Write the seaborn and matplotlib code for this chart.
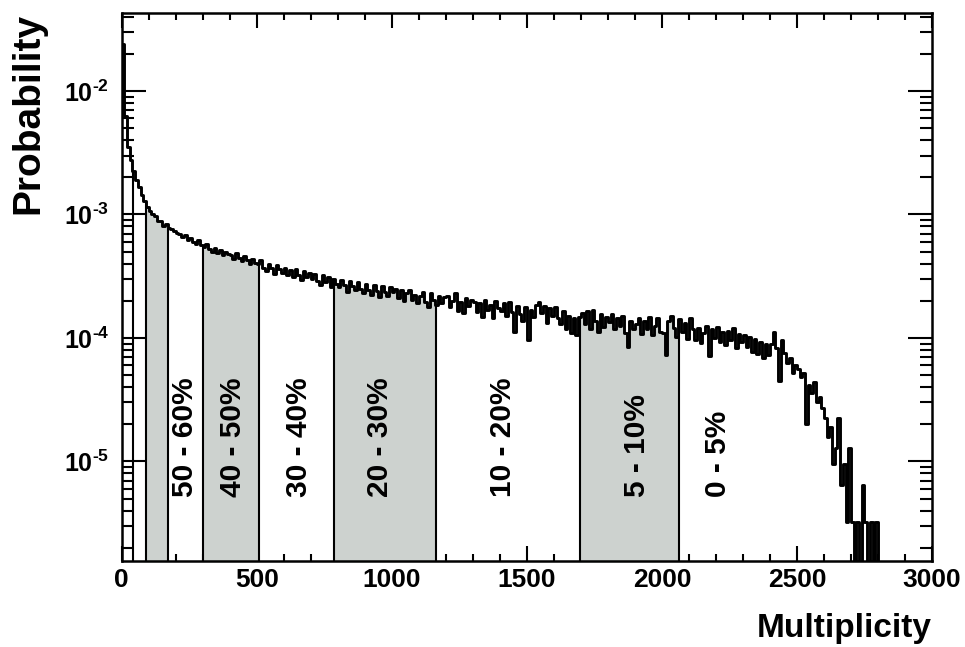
import numpy as np
import pandas as pd
import matplotlib
matplotlib.use("Agg")
import matplotlib.pyplot as plt
import seaborn as sns
from matplotlib.ticker import MultipleLocator, LogLocator, NullFormatter, FuncFormatter

# histogram: log10(probability), bins of 10 in multiplicity
bin_width = 10
logp_0_500 = [
    -1.62, -2.20, -2.45, -2.56, -2.65, -2.72, -2.78, -2.84, -2.89, -2.94,
    -2.97, -3.00, -3.01, -3.05, -3.05, -3.09, -3.08, -3.11, -3.12, -3.13,
    -3.15, -3.16, -3.18, -3.17, -3.21, -3.19, -3.22, -3.24, -3.21, -3.25,
    -3.26, -3.24, -3.28, -3.30, -3.27, -3.31, -3.29, -3.33, -3.30, -3.32,
    -3.33, -3.36, -3.31, -3.35, -3.38, -3.34, -3.37, -3.40, -3.36, -3.39,
]
logp_500_1000 = [
    -3.40, -3.37, -3.43, -3.46, -3.40, -3.43, -3.48, -3.41, -3.44, -3.47,
    -3.43, -3.49, -3.45, -3.51, -3.44, -3.49, -3.53, -3.46, -3.51, -3.47,
    -3.52, -3.48, -3.54, -3.57, -3.49, -3.55, -3.51, -3.59, -3.52, -3.56,
    -3.59, -3.53, -3.57, -3.63, -3.54, -3.58, -3.61, -3.55, -3.60, -3.64,
    -3.56, -3.61, -3.65, -3.57, -3.62, -3.67, -3.58, -3.63, -3.66, -3.59,
]
logp_1000_1500 = [
    -3.63, -3.60, -3.68, -3.61, -3.70, -3.64, -3.61, -3.69, -3.65, -3.72,
    -3.66, -3.63, -3.71, -3.75, -3.64, -3.69, -3.73, -3.66, -3.72, -3.67,
    -3.66, -3.75, -3.70, -3.64, -3.78, -3.71, -3.80, -3.68, -3.74, -3.69,
    -3.71, -3.79, -3.72, -3.83, -3.69, -3.77, -3.73, -3.84, -3.70, -3.76,
    -3.78, -3.72, -3.82, -3.71, -3.79, -3.95, -3.74, -3.81, -3.86, -3.75,
]
logp_1500_2000 = [
    -4.02, -3.77, -3.83, -3.73, -3.71, -3.80, -3.74, -3.88, -3.76, -3.82,
    -3.75, -3.84, -3.89, -3.78, -3.93, -3.82, -3.96, -3.84, -3.98, -3.83,
    -3.80, -3.89, -3.78, -3.93, -3.77, -3.86, -3.95, -3.81, -3.91, -3.83,
    -3.87, -3.81, -3.93, -3.84, -3.90, -3.82, -3.96, -4.07, -3.86, -3.93,
    -3.89, -3.84, -3.97, -3.86, -3.93, -3.83, -3.98, -3.90, -3.84, -3.95,
]
logp_2000_2500 = [
    -3.96, -4.14, -3.86, -3.82, -3.92, -3.99, -3.85, -3.95, -3.88, -4.01,
    -3.84, -3.93, -4.02, -3.92, -4.04, -3.96, -3.90, -4.15, -3.93, -4.00,
    -3.91, -4.03, -3.95, -4.06, -3.94, -4.02, -3.92, -4.08, -3.97, -4.03,
    -3.98, -4.07, -3.99, -4.11, -4.01, -4.13, -4.03, -4.16, -4.05, -4.14,
    -4.05, -3.95, -4.08, -4.35, -4.02, -4.12, -4.20, -4.16, -4.28, -4.22,
]
logp_2500_2810 = [
    -4.25, -4.32, -4.28, -4.70, -4.38, -4.45, -4.36, -4.52, -4.48, -4.57,
    -4.65, -4.80, -4.72, -5.02, -4.89, -4.65, -5.19, -5.02, -5.49, -4.89,
    -5.49, None, -5.49, None, -5.19, -5.49, None, -5.49, None, -5.49,
    None,
]

# centrality class boundaries and labels
cuts = [42, 89, 170, 300, 509, 786, 1163, 1695, 2062]
shaded = [(89, 170), (300, 509), (786, 1163), (1695, 2062)]
class_labels = ["50 - 60%", "40 - 50%", "30 - 40%", "20 - 30%", "10 - 20%", "5 - 10%", "0 - 5%"]
label_x = [235, 412, 656, 956, 1410, 1906, 2206]

sns.set_theme(style="ticks")
plt.rcParams['font.family'] = ['Liberation Sans', 'DejaVu Sans']
plt.rcParams['font.weight'] = 'bold'
plt.rcParams['mathtext.fontset'] = 'custom'
plt.rcParams['mathtext.rm'] = 'Liberation Sans:bold'
plt.rcParams['mathtext.it'] = 'Liberation Sans:bold'
plt.rcParams['mathtext.bf'] = 'Liberation Sans:bold'
for k in ['axes.edgecolor', 'xtick.color', 'ytick.color', 'text.color', 'axes.labelcolor']:
    plt.rcParams[k] = 'black'

logp = logp_0_500 + logp_500_1000 + logp_1000_1500 + logp_1500_2000 + logp_2000_2500 + logp_2500_2810
floor = 1e-9
prob = np.array([10 ** v if v is not None else floor for v in logp])
edges = np.arange(len(prob) + 1) * bin_width
df = pd.DataFrame({"mult": edges, "prob": np.append(prob, prob[-1])})


def hist_at(x):
    i = min(int(x // bin_width), len(prob) - 1)
    return prob[i]


fig = plt.figure(figsize=(9.65, 6.47), dpi=100)
ax = fig.add_axes([0.1261, 0.1329, 0.8397, 0.8475])

gray = '#cdd2cf'
for a, b in shaded:
    inner = edges[(edges > a) & (edges < b)]
    xs = np.concatenate([[a], inner, [b]])
    ys = [hist_at(x) for x in xs[:-1]]
    ys.append(ys[-1])
    ax.fill_between(xs, floor, ys, step='post', color=gray, lw=0, zorder=1)

ax.vlines(cuts, floor, [hist_at(c) for c in cuts], color='black', lw=1.5, zorder=2)

sns.lineplot(data=df, x="mult", y="prob", drawstyle="steps-post", color="black",
             lw=2.1, ax=ax, estimator=None, zorder=3)

ax.set_yscale('log')
ax.set_xlim(0, 3000)
ax.set_ylim(1.56e-6, 4.31e-2)

for lab, lx in zip(class_labels, label_x):
    ax.text(lx, 5.16e-6, lab, rotation=90, ha='center', va='bottom',
            fontsize=21.5, fontweight='bold', zorder=4)

ax.xaxis.set_major_locator(MultipleLocator(500))
ax.xaxis.set_minor_locator(MultipleLocator(100))
ax.yaxis.set_major_locator(LogLocator(base=10, numticks=12))
ax.yaxis.set_minor_locator(LogLocator(base=10, subs=np.arange(2, 10), numticks=12))
ax.yaxis.set_minor_formatter(NullFormatter())
ax.yaxis.set_major_formatter(FuncFormatter(
    lambda v, p: r'$10^{\text{-}%d}$' % abs(round(np.log10(v)))))

ax.tick_params(which='both', direction='in', top=True, right=True, width=1.5)
ax.tick_params(axis='x', which='major', length=11, labelsize=19, pad=5)
ax.tick_params(axis='x', which='minor', length=5)
ax.tick_params(axis='y', which='major', length=17, labelsize=18, pad=9)
ax.tick_params(axis='y', which='minor', length=8.5)
for s in ax.spines.values():
    s.set_linewidth(1.8)

ax.set_xlabel("Multiplicity", loc='right', fontsize=24, fontweight='bold')
ax.xaxis.set_label_coords(1.0, -0.095)
ax.set_ylabel("Probability", loc='top', fontsize=28, fontweight='bold')
ax.yaxis.set_label_coords(-0.093, 1.0)

fig.savefig("out.png", dpi=100)
